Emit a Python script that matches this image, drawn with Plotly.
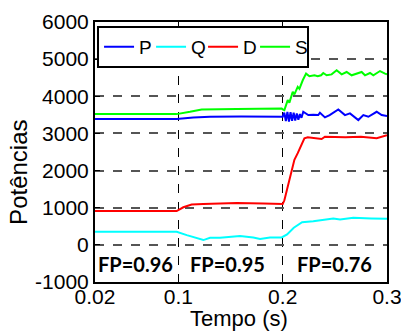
import plotly.graph_objects as go

# ---- data ----
tP = [0.02, 0.0983, 0.1143, 0.1303, 0.16, 0.199, 0.2,
      0.2015, 0.203, 0.2045, 0.206, 0.2075, 0.209, 0.2105, 0.212, 0.2135, 0.215, 0.2165, 0.218,
      0.2197, 0.2245, 0.2293, 0.2341, 0.2357, 0.2405, 0.245, 0.2533, 0.2597, 0.2645, 0.2725,
      0.2773, 0.2821, 0.2901, 0.2949, 0.3]
P = [3390, 3390, 3432, 3449, 3455, 3449, 3450,
     3560, 3330, 3580, 3320, 3570, 3340, 3560, 3350, 3540, 3370, 3520, 3420,
     3583, 3494, 3500, 3494, 3556, 3431, 3494, 3646, 3494, 3539, 3360,
     3494, 3449, 3583, 3494, 3467]

tQ = [0.02, 0.0983, 0.108, 0.1175, 0.1239, 0.1303, 0.1399, 0.159, 0.1718, 0.1783, 0.1878, 0.199,
      0.2042, 0.2106, 0.2186, 0.2293, 0.2485, 0.2550, 0.2677, 0.285, 0.3]
Q = [353, 353, 263, 174, 129, 193, 193, 236, 200, 160, 200, 200,
     281, 460, 610, 637, 710, 683, 728, 710, 701]

tD = [0.02, 0.0983, 0.1047, 0.1127, 0.1239, 0.1559, 0.1814, 0.199, 0.2,
      0.2016, 0.2048, 0.208, 0.2112, 0.2144, 0.2176, 0.2208, 0.224, 0.2373, 0.2405,
      0.26, 0.275, 0.2901, 0.3]
D = [910, 910, 1012, 1084, 1103, 1130, 1115, 1111, 1100,
     1200, 1575, 1933, 2289, 2468, 2691, 2870, 2897, 2851, 2913,
     2897, 2913, 2870, 2950]

tS = [0.02, 0.0983, 0.1111, 0.1223, 0.1559, 0.199, 0.2,
      0.2016, 0.2048, 0.2064, 0.2096, 0.2112, 0.2144, 0.216, 0.2192, 0.2224, 0.2256,
      0.2304, 0.2336, 0.2368, 0.2389, 0.2421, 0.2469, 0.2517, 0.2565, 0.2613, 0.2661,
      0.2693, 0.2757, 0.2789, 0.2837, 0.2869, 0.2901, 0.2933, 0.2981, 0.3]
S = [3520, 3520, 3583, 3646, 3655, 3673, 3650,
     3628, 3896, 3830, 4118, 4050, 4252, 4200, 4431, 4610, 4538,
     4565, 4540, 4565, 4627, 4565, 4590, 4699, 4590, 4654, 4565,
     4600, 4654, 4565, 4627, 4565, 4627, 4680, 4610, 4592]

series = [("P", tP, P, "#0000ff"), ("Q", tQ, Q, "#00ffff"),
          ("D", tD, D, "#ff0000"), ("S", tS, S, "#00ff00")]

fp_x = [0.0593, 0.1475, 0.2497]
fp_y = [-520, -520, -520]
fp_text = ["FP=0.96", "FP=0.95", "FP=0.76"]

xticks = [0.02, 0.1, 0.2, 0.3]
xticklabels = ["0.02", "0.1", "0.2", "0.3"]
yticks = [-1000, 0, 1000, 2000, 3000, 4000, 5000, 6000]
yticklabels = ["-1000", "0", "1000", "2000", "3000", "4000", "5000", "6000"]

fig = go.Figure()
for name, t, v, c in series:
    fig.add_trace(go.Scatter(x=t, y=v, mode="lines", name=name,
                             line=dict(color=c, width=2)))

for x, y, txt in zip(fp_x, fp_y, fp_text):
    fig.add_annotation(x=x, y=y, text=txt, showarrow=False,
                       font=dict(family="Lato", size=20, color="black", weight="bold"))

font = "Liberation Sans, Arial, sans-serif"
# axis titles as annotations
fig.add_annotation(text="Tempo (s)", xref="paper", yref="paper", x=0.493, y=-0.142,
                   xanchor="center", yanchor="middle", showarrow=False,
                   font=dict(family=font, size=22, color="black"))
fig.add_annotation(text="Potências", xref="paper", yref="paper", x=-0.26, y=0.42,
                   xanchor="center", yanchor="middle", showarrow=False, textangle=-90,
                   font=dict(family=font, size=24, color="black"))

fig.update_layout(
    width=401, height=331,
    margin=dict(l=95, r=14, t=22, b=49, autoexpand=False),
    paper_bgcolor="white", plot_bgcolor="white",
    font=dict(family=font, size=21, color="black"),
    showlegend=True,
    legend=dict(orientation="h", x=0.007, y=0.985, xanchor="left", yanchor="top",
                bgcolor="white", bordercolor="black", borderwidth=2,
                font=dict(size=19), itemwidth=30, entrywidth=7, tracegroupgap=0),
)
fig.update_xaxes(range=[0.02, 0.3], tickvals=xticks, ticktext=xticklabels,
                 showgrid=True, gridcolor="black", griddash="dash", gridwidth=1,
                 showline=True, linecolor="black", linewidth=2, mirror=True,
                 ticks="inside", ticklen=5, tickcolor="black", zeroline=False,
                 automargin=False, tickfont=dict(size=21),
                 ticklabeloverflow="allow", ticklabelstandoff=-5)
fig.update_yaxes(range=[-1000, 6000], tickvals=yticks, ticktext=yticklabels,
                 showgrid=True, gridcolor="#555555", griddash="dash", gridwidth=1.5,
                 showline=True, linecolor="black", linewidth=2, mirror=True,
                 ticks="inside", ticklen=5, tickcolor="black", zeroline=False,
                 automargin=False, tickfont=dict(size=21), ticklabeloverflow="allow")

fig.write_html("out.html", config={"displayModeBar": False},
               post_script="document.body.style.margin='0px';")
